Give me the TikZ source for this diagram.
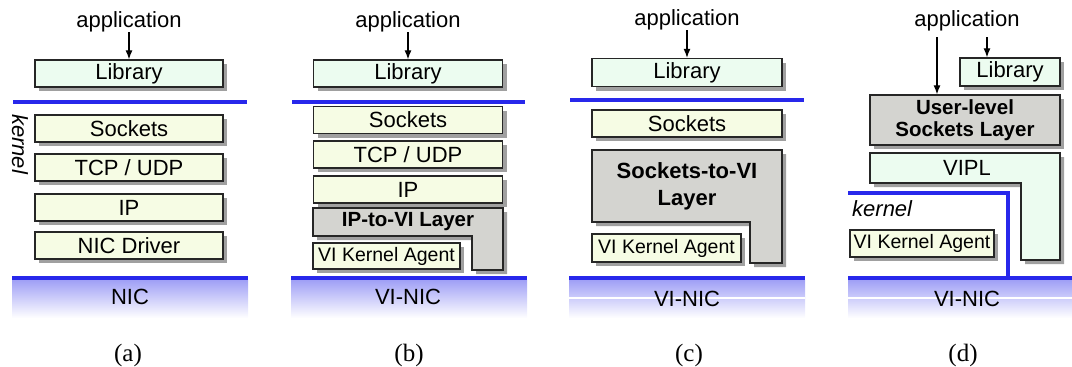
\documentclass[tikz,border=0pt]{standalone}
\usepackage{fontspec}
\setmainfont{Liberation Sans}
\newfontfamily\capfont{Liberation Serif}
\usetikzlibrary{arrows.meta,shadows}

\definecolor{libfill}{RGB}{236,252,240}
\definecolor{layerfill}{RGB}{246,252,228}
\definecolor{greyfill}{RGB}{212,212,208}
\definecolor{shadowgrey}{RGB}{160,160,160}
\definecolor{busblue}{RGB}{40,40,235}
\definecolor{nicblue}{RGB}{160,160,246}

\begin{document}
\begin{tikzpicture}[x=1pt,y=-1pt,
  txt/.style={inner sep=0pt,font=\fontsize{22}{24}\selectfont},
  boxshadow/.style={drop shadow={shadow xshift=4pt,shadow yshift=-4pt,fill=shadowgrey,opacity=1}},
  layer/.style={draw=black!85,line width=1.3pt,fill=layerfill,inner sep=0pt,
    font=\fontsize{22}{24}\selectfont,boxshadow},
  lib/.style={layer,fill=libfill},
  agent/.style={layer,font=\fontsize{19.5}{22}\selectfont},
  greyshape/.style={draw=black!85,line width=1.3pt,fill=greyfill,boxshadow},
  mintshape/.style={draw=black!85,line width=1.3pt,fill=libfill,boxshadow},
  boldtxt/.style={inner sep=0pt,align=center,font=\bfseries\fontsize{20.5}{22}\selectfont},
  bus/.style={draw=busblue,line width=4pt},
  arr/.style={-{Latex[length=9pt,width=7pt]},line width=1.2pt},
  nic/.style={top color=nicblue,bottom color=white,draw=none},
  caption/.style={inner sep=0pt,font=\capfont\fontsize{25}{27}\selectfont}
]
\useasboundingbox (0,0) rectangle (1072,367);

% ---------- (a) conventional stack ----------
\node[txt] (a-app) at (129,22) {application};
\node[lib,minimum width=188pt,minimum height=27pt] (a-lib) at (129,73.5) {Library};
\draw[arr] (a-app.south) -- (a-lib.north);
\draw[bus] (13,102) -- (247,102);
\node[txt,font=\itshape\fontsize{22}{24}\selectfont,rotate=-90] (a-kernel) at (20,144) {kernel};
\node[layer,minimum width=188pt,minimum height=27pt] (a-sock) at (129,128.5) {Sockets};
\node[layer,minimum width=188pt,minimum height=27pt] (a-tcp) at (129,167.5) {TCP / UDP};
\node[layer,minimum width=188pt,minimum height=27pt] (a-ip) at (129,207.5) {IP};
\node[layer,minimum width=188pt,minimum height=27pt] (a-drv) at (129,245.5) {NIC Driver};
\fill[nic] (12,280) rectangle (248,318);
\draw[bus] (12,278) -- (248,278);
\node[txt] (a-nic) at (130,297) {NIC};
\node[caption] (a-cap) at (128,355) {(a)};

% ---------- (b) IP-to-VI layer ----------
\node[txt] (b-app) at (408,22) {application};
\node[lib,minimum width=189pt,minimum height=27pt] (b-lib) at (408,73.5) {Library};
\draw[arr] (b-app.south) -- (b-lib.north);
\draw[bus] (292,102) -- (525,102);
\node[layer,minimum width=189pt,minimum height=27pt] (b-sock) at (408,120) {Sockets};
\node[layer,minimum width=189pt,minimum height=27pt] (b-tcp) at (408,154.5) {TCP / UDP};
\node[layer,minimum width=189pt,minimum height=27pt] (b-ip) at (408,189.5) {IP};
\path[greyshape] (313,208) -- (503,208) -- (503,270) -- (472,270) -- (472,236) -- (313,236) -- cycle;
\node[boldtxt] (b-iptovi) at (408,222) {IP-to-VI Layer};
\node[agent,minimum width=147pt,minimum height=26pt] (b-agent) at (386.5,256) {VI Kernel Agent};
\fill[nic] (291,280) rectangle (527,318);
\draw[bus] (291,278) -- (527,278);
\node[txt] (b-nic) at (408,297) {VI-NIC};
\node[caption] (b-cap) at (409,355) {(b)};

% ---------- (c) Sockets-to-VI layer ----------
\node[txt] (c-app) at (687,20) {application};
\node[lib,minimum width=190pt,minimum height=28pt] (c-lib) at (687,72.5) {Library};
\draw[arr] (c-app.south) -- (c-lib.north);
\draw[bus] (570,100) -- (804,100);
\node[layer,minimum width=190pt,minimum height=27pt] (c-sock) at (687,123.5) {Sockets};
\path[greyshape] (592,150) -- (782,150) -- (782,263) -- (750,263) -- (750,222) -- (592,222) -- cycle;
\node[boldtxt,font=\bfseries\fontsize{22}{27}\selectfont] (c-stovi) at (687,186) {Sockets-to-VI\\Layer};
\node[agent,minimum width=149pt,minimum height=28pt] (c-agent) at (666.5,248) {VI Kernel Agent};
\fill[nic] (569,280) rectangle (805,318);
\draw[white,line width=1.2pt] (569,298) -- (805,298);
\draw[bus] (569,278) -- (805,278);
\node[txt] (c-nic) at (687,299) {VI-NIC};
\node[caption] (c-cap) at (689,355) {(c)};

% ---------- (d) user-level sockets ----------
\node[txt] (d-app) at (967,21) {application};
\coordinate (d-tap1) at (937,37);
\coordinate (d-tap2) at (987,37);
\node[lib,minimum width=100pt,minimum height=28pt] (d-lib) at (1010,72) {Library};
\node[layer,fill=greyfill,minimum width=190pt,minimum height=50pt] (d-ulsl) at (965,120) {};
\node[boldtxt] (d-ulsl-text) at (d-ulsl) {User-level\\Sockets Layer};
\draw[arr] (d-tap1) -- (d-tap1 |- d-ulsl.north);
\draw[arr] (d-tap2) -- (d-tap2 |- d-lib.north);
\path[mintshape] (870,153) -- (1060,153) -- (1060,260) -- (1021,260) -- (1021,183) -- (870,183) -- cycle;
\node[txt] (d-vipl) at (967,168) {VIPL};
\draw[bus,line join=miter] (848,193) -- (1008,193) -- (1008,276);
\node[txt,anchor=west,font=\itshape\fontsize{22}{24}\selectfont] (d-kernel) at (852,209) {kernel};
\node[agent,minimum width=144pt,minimum height=27pt] (d-agent) at (922,243.5) {VI Kernel Agent};
\fill[nic] (848,280) rectangle (1072,318);
\draw[white,line width=1.2pt] (848,298) -- (1072,298);
\draw[bus] (848,278) -- (1072,278);
\node[txt] (d-nic) at (967,299) {VI-NIC};
\node[caption] (d-cap) at (963,355) {(d)};
\end{tikzpicture}
\end{document}
